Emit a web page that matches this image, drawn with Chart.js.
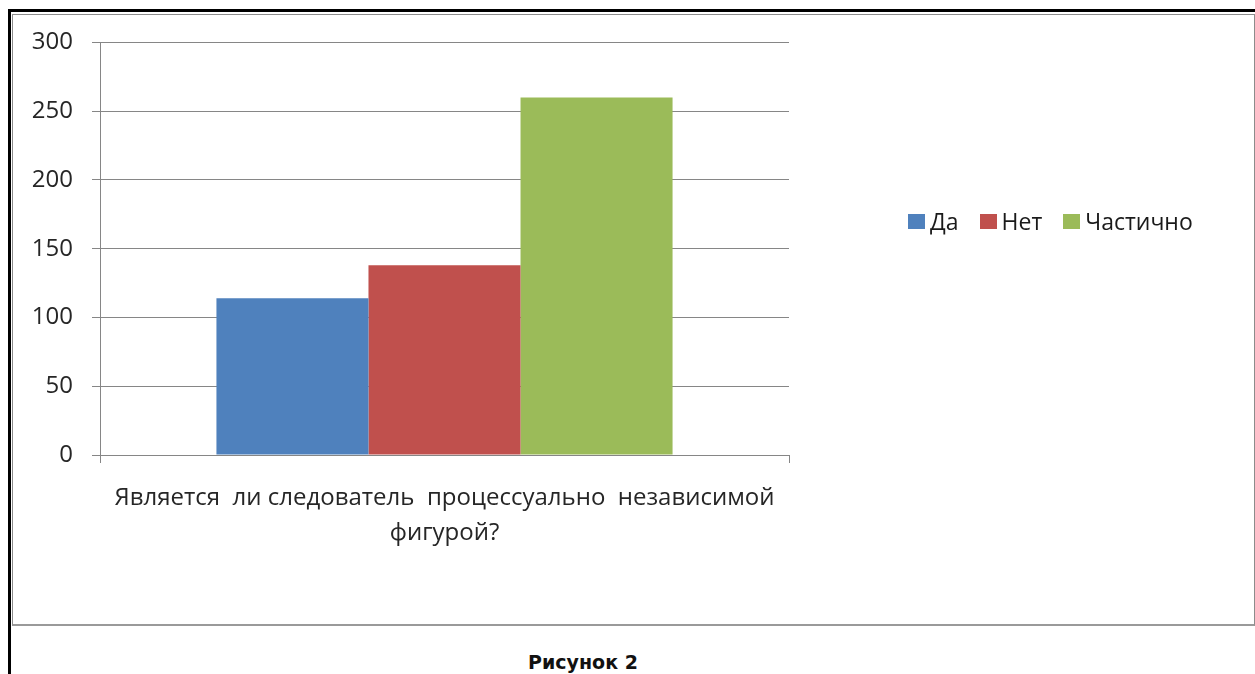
<!DOCTYPE html>
<html>
<head>
<meta charset="utf-8">
<script src="https://cdn.jsdelivr.net/npm/chart.js@4"></script>
<style>
  body { margin: 0; background: #fff; width: 1255px; height: 674px; overflow: hidden; position: relative; font-family: "Open Sans", sans-serif; }
  #frame { position: absolute; left: 8px; top: 9px; width: 1260px; height: 700px; border-left: 3px solid #000; border-top: 3px solid #000; }
  #box { position: absolute; left: 12px; top: 14px; width: 1241px; height: 609px; border: 1px solid #8c8c8c; border-bottom: 2px solid #9a9a9a; background: #fff; }
  #chart { position: absolute; left: 0; top: -6px; }
  #legend { position: absolute; left: 895px; top: 190px; display: flex; align-items: center; font-size: 23px; color: #1a1a1a; }
  #legend span.item { display: flex; align-items: center; margin-right: 21px; }
  #legend span.sw { display: inline-block; width: 17px; height: 15px; margin-right: 5px; }
  #caption { position: absolute; left: 0; width: 1166px; top: 651px; text-align: center; font-family: "DejaVu Sans", sans-serif; font-weight: bold; font-size: 19px; color: #111; }
</style>
</head>
<body>
<div id="frame"></div>
<div id="box">
  <canvas id="chart" width="1241" height="615"></canvas>
  <div id="legend"></div>
</div>
<div id="caption">Рисунок 2</div>
<script>
// data
const categories = [["Является  ли следователь  процессуально  независимой", "фигурой?"]];
const seriesNames = ["Да", "Нет", "Частично"];
const seriesValues = [[114], [138], [260]];
const seriesColors = ["#4F81BD", "#C0504D", "#9BBB59"];
const yTicks = { min: 0, max: 300, step: 50 };

const gridColor = "#868686";
const textColor = "#262626";

const datasets = seriesNames.map((name, i) => ({
  label: name,
  data: seriesValues[i],
  backgroundColor: seriesColors[i],
  borderWidth: 0,
  barPercentage: 1,
  categoryPercentage: 0.662,
}));

new Chart(document.getElementById("chart"), {
  type: "bar",
  data: { labels: categories, datasets: datasets },
  options: {
    responsive: false,
    animation: false,
    layout: { padding: { top: 21, right: 465, left: 0, bottom: 0 } },
    plugins: {
      legend: { display: false },
      tooltip: { enabled: false },
    },
    scales: {
      x: {
        grid: { offset: true, drawOnChartArea: false, color: gridColor, tickLength: 8 },
        border: { color: gridColor },
        ticks: {
          color: textColor,
          padding: 18,
          maxRotation: 0,
          font: { family: "Open Sans", size: 24, lineHeight: 1.45 },
        },
        afterFit: (s) => { s.height = 169; },
      },
      y: {
        min: yTicks.min,
        max: yTicks.max,
        ticks: {
          stepSize: yTicks.step,
          color: textColor,
          padding: 19,
          font: { family: "Open Sans", size: 24 },
        },
        grid: { color: gridColor, tickLength: 8 },
        border: { color: gridColor },
        afterFit: (s) => { s.width = 87; },
      },
    },
  },
});

// legend in one row, like the original
const legend = document.getElementById("legend");
seriesNames.forEach((name, i) => {
  const item = document.createElement("span");
  item.className = "item";
  const sw = document.createElement("span");
  sw.className = "sw";
  sw.style.background = seriesColors[i];
  item.appendChild(sw);
  item.appendChild(document.createTextNode(name));
  legend.appendChild(item);
});
</script>
</body>
</html>
